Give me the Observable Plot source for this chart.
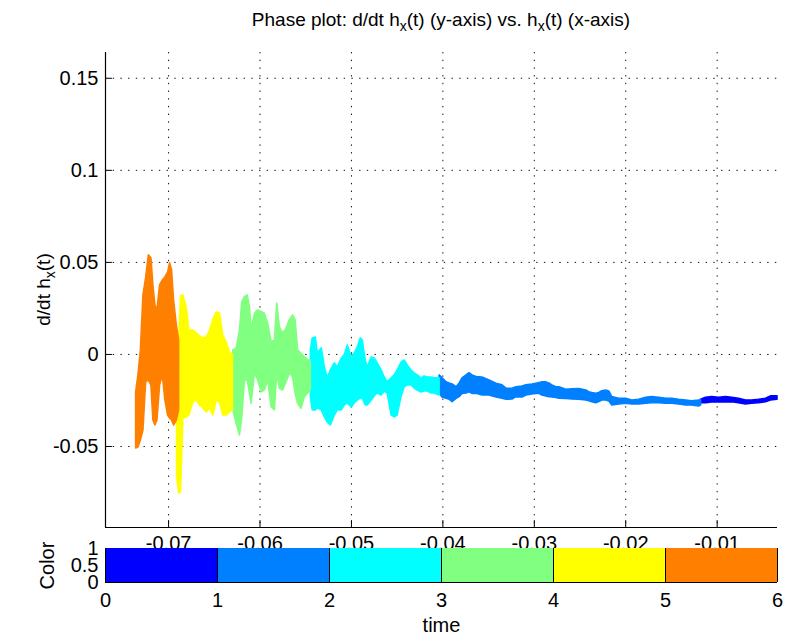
<!DOCTYPE html>
<html>
<head>
<meta charset="utf-8">
<script src="https://cdn.jsdelivr.net/npm/d3@7"></script>
<script src="https://cdn.jsdelivr.net/npm/@observablehq/plot@0.6"></script>
<style>
  body { margin: 0; background: #fff; }
  #chart { position: relative; width: 785px; height: 637px; background: #fff; }
  #chart svg { position: absolute; left: 0; top: 0; }
</style>
</head>
<body>
<div id="chart"></div>
<script>
// Time bins of the colour bar and their colours (jet-like)
const timeEdges = [0, 1, 2, 3, 4, 5, 6];
const binColors = ["#0000ff", "#0080ff", "#00ffff", "#80ff80", "#ffff00", "#ff8000"];

// Axis ticks
const xTicks = [-0.07, -0.06, -0.05, -0.04, -0.03, -0.02, -0.01];
const yTicks = [-0.05, 0, 0.05, 0.1, 0.15];
const colorTicks = [0, 0.5, 1];
const xDomain = [-0.0769, -0.0034];
const yDomain = [-0.094, 0.164];

// Trace envelope per time bin: h_x(t) and upper / lower d/dt h_x(t)
const hx_t0 = [-0.01176,-0.01121,-0.01056,-0.00979,-0.00903,-0.00837,-0.00761,-0.00685,-0.00619,-0.00543,-0.00466,-0.00412,-0.00340];
const hi_t0 = [-0.0246,-0.0235,-0.0232,-0.0235,-0.0232,-0.0235,-0.0241,-0.0250,-0.0250,-0.0246,-0.0241,-0.0228,-0.0228];
const lo_t0 = [-0.0265,-0.0265,-0.0261,-0.0259,-0.0261,-0.0259,-0.0265,-0.0272,-0.0268,-0.0265,-0.0259,-0.0250,-0.0246];

const hx_t1 = [-0.04036,-0.04003,-0.03960,-0.03927,-0.03894,-0.03850,-0.03818,-0.03785,-0.03741,-0.03709,-0.03676,-0.03632,-0.03567,-0.03490,-0.03414,-0.03348,-0.03305,-0.03239,-0.03195,-0.03130,-0.03086,-0.03021,-0.02977,-0.02944,-0.02912,-0.02868,-0.02835,-0.02802,-0.02759,-0.02726,-0.02650,-0.02584,-0.02508,-0.02431,-0.02399,-0.02366,-0.02322,-0.02289,-0.02257,-0.02213,-0.02180,-0.02147,-0.02071,-0.01995,-0.01929,-0.01853,-0.01776,-0.01711,-0.01634,-0.01558,-0.01492,-0.01416,-0.01340,-0.01274,-0.01198,-0.01176];
const hi_t1 = [-0.0114,-0.0130,-0.0151,-0.0158,-0.0163,-0.0178,-0.0159,-0.0130,-0.0114,-0.0102,-0.0114,-0.0123,-0.0125,-0.0141,-0.0159,-0.0168,-0.0186,-0.0186,-0.0178,-0.0174,-0.0168,-0.0163,-0.0159,-0.0156,-0.0151,-0.0152,-0.0158,-0.0168,-0.0178,-0.0178,-0.0192,-0.0190,-0.0188,-0.0196,-0.0205,-0.0210,-0.0214,-0.0209,-0.0200,-0.0196,-0.0201,-0.0232,-0.0241,-0.0241,-0.0250,-0.0246,-0.0235,-0.0232,-0.0235,-0.0241,-0.0241,-0.0246,-0.0250,-0.0254,-0.0250,-0.0247];
const lo_t1 = [-0.0212,-0.0234,-0.0241,-0.0246,-0.0259,-0.0241,-0.0232,-0.0214,-0.0212,-0.0205,-0.0214,-0.0214,-0.0223,-0.0223,-0.0234,-0.0241,-0.0246,-0.0245,-0.0232,-0.0234,-0.0223,-0.0217,-0.0214,-0.0214,-0.0223,-0.0228,-0.0232,-0.0234,-0.0236,-0.0241,-0.0242,-0.0245,-0.0246,-0.0250,-0.0254,-0.0259,-0.0265,-0.0259,-0.0250,-0.0250,-0.0255,-0.0277,-0.0272,-0.0268,-0.0272,-0.0272,-0.0268,-0.0265,-0.0265,-0.0268,-0.0268,-0.0272,-0.0277,-0.0277,-0.0283,-0.0277];

const hx_t2 = [-0.05444,-0.05423,-0.05390,-0.05368,-0.05324,-0.05291,-0.05259,-0.05226,-0.05182,-0.05150,-0.05106,-0.05073,-0.05040,-0.04997,-0.04964,-0.04931,-0.04898,-0.04877,-0.04844,-0.04822,-0.04778,-0.04746,-0.04713,-0.04669,-0.04636,-0.04604,-0.04560,-0.04527,-0.04495,-0.04451,-0.04418,-0.04385,-0.04342,-0.04309,-0.04276,-0.04233,-0.04200,-0.04167,-0.04123,-0.04091,-0.04036];
const hi_t2 = [0.0022,0.0087,0.0092,0.0005,0.0033,-0.0071,-0.0130,-0.0087,-0.0049,-0.0071,-0.0022,-0.0005,0.0049,-0.0016,0.0005,0.0038,0.0087,0.0076,-0.0033,-0.0071,-0.0016,-0.0022,-0.0049,-0.0087,-0.0125,-0.0152,-0.0130,-0.0114,-0.0087,-0.0044,-0.0033,-0.0060,-0.0087,-0.0103,-0.0114,-0.0130,-0.0120,-0.0125,-0.0125,-0.0130,-0.0130];
const lo_t2 = [-0.0234,-0.0304,-0.0304,-0.0293,-0.0304,-0.0342,-0.0370,-0.0386,-0.0332,-0.0304,-0.0304,-0.0277,-0.0266,-0.0288,-0.0266,-0.0250,-0.0239,-0.0239,-0.0277,-0.0277,-0.0250,-0.0228,-0.0212,-0.0223,-0.0201,-0.0212,-0.0332,-0.0342,-0.0332,-0.0228,-0.0179,-0.0168,-0.0168,-0.0185,-0.0196,-0.0207,-0.0201,-0.0201,-0.0212,-0.0212,-0.0223];

const hx_t3 = [-0.06293,-0.06255,-0.06219,-0.06194,-0.06165,-0.06135,-0.06110,-0.06092,-0.06056,-0.06020,-0.05983,-0.05947,-0.05911,-0.05873,-0.05837,-0.05812,-0.05783,-0.05747,-0.05710,-0.05674,-0.05638,-0.05611,-0.05583,-0.05546,-0.05510,-0.05444];
const hi_t3 = [0.0022,0.0031,0.0130,0.0284,0.0311,0.0321,0.0257,0.0130,0.0221,0.0239,0.0230,0.0221,0.0167,0.0067,0.0076,0.0276,0.0148,0.0113,0.0140,0.0185,0.0212,0.0185,0.0022,0.0004,-0.0015,-0.0042];
const lo_t3 = [-0.0304,-0.0377,-0.0440,-0.0341,-0.0141,-0.0141,-0.0214,-0.0268,-0.0105,-0.0141,-0.0205,-0.0196,-0.0141,-0.0286,-0.0304,-0.0105,-0.0186,-0.0196,-0.0151,-0.0105,-0.0123,-0.0214,-0.0268,-0.0295,-0.0232,-0.0196];

const hx_t4 = [-0.06907,-0.06885,-0.06864,-0.06838,-0.06801,-0.06773,-0.06729,-0.06692,-0.06656,-0.06620,-0.06583,-0.06547,-0.06511,-0.06474,-0.06438,-0.06402,-0.06365,-0.06329,-0.06296];
const hi_t4 = [-0.0348,0.0076,0.0315,0.0321,0.0250,0.0130,0.0130,0.0114,0.0098,0.0087,0.0092,0.0130,0.0185,0.0228,0.0223,0.0103,0.0065,0.0011,-0.0005];
const lo_t4 = [-0.0658,-0.0755,-0.0750,-0.0348,-0.0342,-0.0332,-0.0261,-0.0250,-0.0277,-0.0293,-0.0315,-0.0293,-0.0332,-0.0250,-0.0261,-0.0332,-0.0332,-0.0315,-0.0304];

const hx_t5 = [-0.07355,-0.07330,-0.07303,-0.07275,-0.07246,-0.07216,-0.07188,-0.07166,-0.07144,-0.07122,-0.07093,-0.07063,-0.07035,-0.07005,-0.06984,-0.06962,-0.06940,-0.06910,-0.06885];
const hi_t5 = [-0.0207,-0.0114,0.0022,0.0321,0.0413,0.0538,0.0522,0.0375,0.0266,0.0239,0.0375,0.0402,0.0418,0.0446,0.0495,0.0457,0.0293,0.0158,0.0076];
const lo_t5 = [-0.0511,-0.0505,-0.0467,-0.0413,-0.0152,-0.0141,-0.0168,-0.0359,-0.0386,-0.0359,-0.0168,-0.0114,-0.0250,-0.0332,-0.0348,-0.0359,-0.0386,-0.0359,-0.0304];

const FONT = '"Liberation Sans", Arial, Helvetica, sans-serif';
const fmt = d => String(d);

const segments = [
  [hx_t0, hi_t0, lo_t0], [hx_t1, hi_t1, lo_t1], [hx_t2, hi_t2, lo_t2],
  [hx_t3, hi_t3, lo_t3], [hx_t4, hi_t4, lo_t4], [hx_t5, hi_t5, lo_t5]
];
const trace = segments.flatMap(([xs, his, los], bin) =>
  xs.map((x, i) => ({hx: x, hi: his[i], lo: los[i], bin, color: binColors[bin]})));

const bars = binColors.map((c, i) => ({t0: timeEdges[i], t1: timeEdges[i + 1], color: c}));

// inward tick mark drawn as a plain segment
const tickShape = {draw(ctx, l) { ctx.moveTo(0, 0); ctx.lineTo(0, -l); }};
const dotted = {stroke: "#111", strokeOpacity: 1, strokeWidth: 1, strokeDasharray: "1.4,6.3"};

const W = 785, H = 637, ML = 105, MR = 8;

const main = Plot.plot({
  width: W, height: H,
  marginLeft: ML, marginRight: MR, marginTop: 52, marginBottom: 110,
  style: {fontFamily: FONT, background: "transparent", color: "#000"},
  x: {domain: xDomain},
  y: {domain: yDomain},
  color: {type: "identity"},
  marks: [
    Plot.gridX(xTicks, dotted),
    Plot.gridY(yTicks, dotted),
    Plot.areaY(trace, {x: "hx", y1: "lo", y2: "hi", z: "bin", fill: "color", stroke: "color", strokeWidth: 1.6, curve: "linear"}),
    Plot.ruleX([xDomain[0]], {stroke: "#000", strokeWidth: 1.2}),
    Plot.ruleY([yDomain[0]], {stroke: "#000", strokeWidth: 1.2}),
    Plot.vector(xTicks, {x: d => d, y: yDomain[0], length: 7, rotate: 0, anchor: "start", shape: tickShape, stroke: "#000", strokeWidth: 1}),
    Plot.vector(yTicks, {x: xDomain[0], y: d => d, length: 6, rotate: 90, anchor: "start", shape: tickShape, stroke: "#000", strokeWidth: 1}),
    Plot.axisX(xTicks, {tickSize: 0, tickPadding: 8, tickFormat: fmt, fontSize: 20, label: null}),
    Plot.axisY(yTicks, {tickSize: 0, tickPadding: 7, tickFormat: fmt, fontSize: 20, label: null})
  ]
});

// Title and y label with subscripts
const msvg = d3.select(main);
const cx = (ML + (W - MR)) / 2;
const title = msvg.append("text")
  .attr("x", cx).attr("y", 26).attr("text-anchor", "middle")
  .attr("font-family", FONT).attr("font-size", 19).attr("fill", "#000");
title.append("tspan").text("Phase plot: d/dt h");
title.append("tspan").attr("dy", 5).attr("font-size", 14).text("x");
title.append("tspan").attr("dy", -5).text("(t) (y-axis) vs. h");
title.append("tspan").attr("dy", 5).attr("font-size", 14).text("x");
title.append("tspan").attr("dy", -5).text("(t) (x-axis)");

const ylab = msvg.append("text")
  .attr("transform", `translate(50,${(52 + (H - 110)) / 2}) rotate(-90)`)
  .attr("text-anchor", "middle")
  .attr("font-family", FONT).attr("font-size", 19).attr("fill", "#000");
ylab.append("tspan").text("d/dt h");
ylab.append("tspan").attr("dy", 5).attr("font-size", 14).text("x");
ylab.append("tspan").attr("dy", -5).text("(t)");

// Colour bar below the axes
const bar = Plot.plot({
  width: W, height: H,
  marginLeft: ML, marginRight: MR, marginTop: 548, marginBottom: 55,
  style: {fontFamily: FONT, background: "transparent", color: "#000"},
  x: {domain: [timeEdges[0], timeEdges[timeEdges.length - 1]]},
  y: {domain: [colorTicks[0], colorTicks[colorTicks.length - 1]]},
  color: {type: "identity"},
  marks: [
    Plot.barX(bars, {x1: "t0", x2: "t1", fill: "color"}),
    Plot.ruleX(timeEdges, {stroke: "#000", strokeWidth: 1}),
    Plot.ruleY([colorTicks[0]], {stroke: "#000", strokeWidth: 1.2}),
    Plot.axisX(timeEdges, {tickSize: 0, tickPadding: 10, tickFormat: fmt, fontSize: 20, label: null}),
    Plot.axisY(colorTicks, {tickSize: 0, tickPadding: 7, tickFormat: fmt, fontSize: 20, label: null}),
    Plot.text(["time"], {text: d => d, frameAnchor: "bottom", lineAnchor: "middle", textAnchor: "middle", dy: 43, fontSize: 20}),
    Plot.text(["Color"], {text: d => d, frameAnchor: "left", lineAnchor: "middle", textAnchor: "middle", dx: -58, rotate: -90, fontSize: 20})
  ]
});

const chart = document.getElementById("chart");
chart.appendChild(main);
chart.appendChild(bar);
</script>
</body>
</html>
